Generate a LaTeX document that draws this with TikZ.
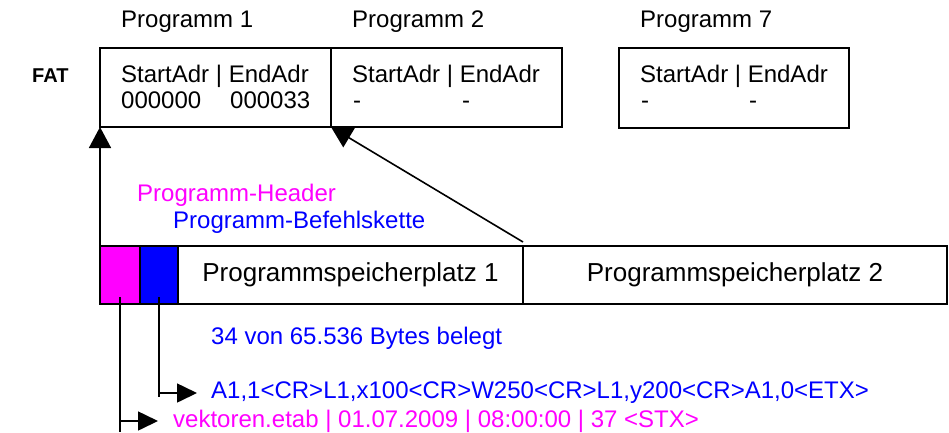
\documentclass[tikz,border=0pt]{standalone}
\usepackage{fontspec}
\setmainfont{Liberation Sans}
\usetikzlibrary{arrows.meta,calc}
\definecolor{mag}{RGB}{255,0,255}
\definecolor{blu}{RGB}{0,0,255}
\tikzset{
  cell/.style={draw=black, line width=1.6pt, inner sep=0pt, outer sep=0pt},
  lbl/.style={anchor=base west, inner sep=0pt, font=\fontsize{24pt}{28pt}\selectfont},
  biglbl/.style={font=\fontsize{26pt}{30pt}\selectfont},
  conn/.style={draw=black, line width=1.6pt},
  bigtip/.style={-{Triangle[length=21pt,width=22pt]}},
  smalltip/.style={-{Triangle[length=20pt,width=19pt]}},
}
\begin{document}
\begin{tikzpicture}[x=1pt,y=-1pt]
\useasboundingbox (0,0) rectangle (949,432);
% FAT
\node[anchor=base west, inner sep=0pt] (fat) at (32,82) {\fontsize{20pt}{24pt}\selectfont\bfseries FAT};
\node[lbl] (h1) at (121,27) {Programm 1};
\node[lbl] (h2) at (352,27) {Programm 2};
\node[lbl] (h7) at (640,27) {Programm 7};
\node[cell, minimum width=231pt, minimum height=79pt] (p1) at (215.5,87.5) {};
\node[cell, minimum width=231pt, minimum height=79pt] (p2) at (446.5,87.5) {};
\node[cell, minimum width=230pt, minimum height=80pt] (p7) at (734,88) {};
\node[lbl] (p1a) at (121,82) {StartAdr | EndAdr};
\node[lbl] (p1b) at (121,108) {000000};
\node[lbl] (p1c) at (230,108) {000033};
\node[lbl] (p2a) at (352,82) {StartAdr | EndAdr};
\node[lbl] (p2b) at (353,108) {-};
\node[lbl] (p2c) at (462,108) {-};
\node[lbl] (p7a) at (640,82) {StartAdr | EndAdr};
\node[lbl] (p7b) at (641,108) {-};
\node[lbl] (p7c) at (749,108) {-};
% labels
\node[lbl, text=mag] (lh) at (137,201) {Programm-Header};
\node[lbl, text=blu] (lb) at (173,228) {Programm-Befehlskette};
% memory
\node[cell, fill=mag, minimum width=40pt, minimum height=58pt] (hdr) at (120,275) {};
\node[cell, fill=blu, minimum width=38pt, minimum height=58pt] (cmd) at (159,275) {};
\node[cell, biglbl, minimum width=345pt, minimum height=58pt] (m1) at (350.5,275) {Programmspeicherplatz 1};
\node[cell, biglbl, minimum width=424pt, minimum height=58pt] (m2) at (735,275) {Programmspeicherplatz 2};
\node[lbl, text=blu] (used) at (211,344) {34 von 65.536 Bytes belegt};
\node[lbl, text=blu] (cmdtxt) at (211,398) {A1,1<CR>L1,x100<CR>W250<CR>L1,y200<CR>A1,0<ETX>};
\node[lbl, text=mag] (vek) at (173,427) {vektoren.etab | 01.07.2009 | 08:00:00 | 37 <STX>};
% connectors
\draw[conn, bigtip] (hdr.north west) -- (p1.south west);
\draw[conn, bigtip] ([yshift=4pt]m1.north east) -- (p1.south east);
\coordinate (ctip) at ([shift={(-14pt,5pt)}]cmdtxt.base west);
\coordinate (vtip) at ([shift={(-15pt,6pt)}]vek.base west);
\draw[conn] ([yshift=7pt]cmd.south) -- ([yshift=-4pt]cmd.south |- ctip);
\draw[conn, smalltip] (cmd.south |- ctip) -- (ctip);
\draw[conn] ([yshift=7pt]hdr.south) -- (hdr.south |- 0,432);
\draw[conn, smalltip] (hdr.south |- vtip) -- (vtip);
\end{tikzpicture}
\end{document}
